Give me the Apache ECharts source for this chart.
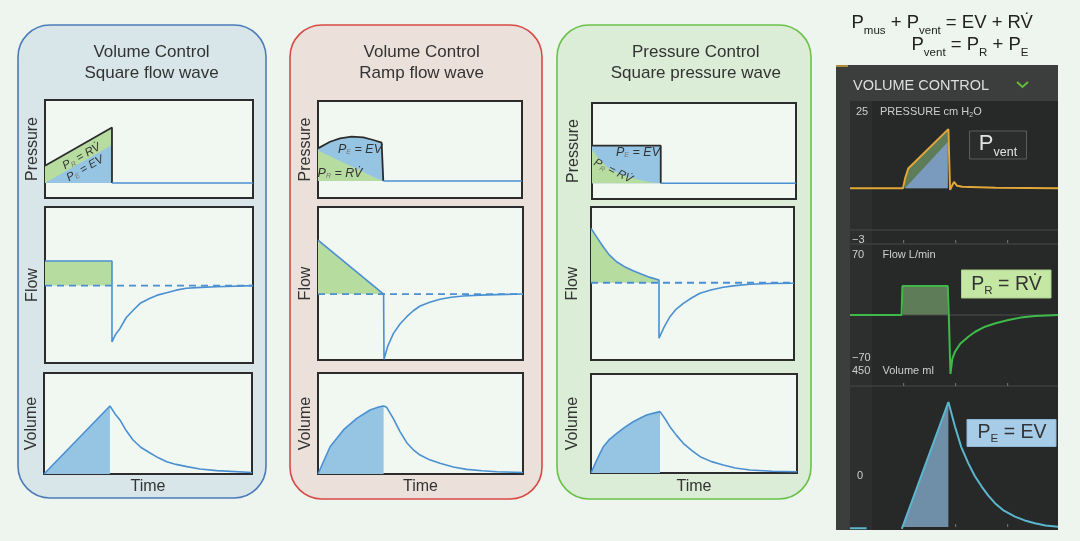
<!DOCTYPE html>
<html><head><meta charset="utf-8">
<script src="https://cdn.jsdelivr.net/npm/echarts@6/dist/echarts.min.js"></script>
<style>html,body{margin:0;padding:0;background:#eef5ee;}#c{width:1080px;height:541px;}</style>
</head><body><div id="c"></div>
<script>
// ---------- DATA (time axis 0..100 per plot) ----------
const panelTitles = [['Volume Control','Square flow wave'],['Volume Control','Ramp flow wave'],['Pressure Control','Square pressure wave']];
const rowNames = ['Pressure','Flow','Volume'];
const timeLabel = 'Time';

// Panel 1 : volume control, square flow
const p1PressureBase = 15.3;
const p1Pressure = [[0,33],[32.2,72],[32.2,15.3]];
const p1PressureE = [[0,15.3],[32.2,54],[32.2,15.3]];
const p1PressureAfter = [[32.2,15.3],[100,15.3]];
const p1FlowZero = 49.6;
const p1Flow = [[0,65.4],[32.2,65.4],[32.2,13.5],[34,18.5],[36,22],[39,29],[42.5,34],[46,38.5],[50.5,41.5],[54,43.5],[58.5,45],[63,46.7],[68,47.9],[75,48.5],[82.5,48.9],[100,49.6]];
const p1FlowFill = [[0,65.4],[32.2,65.4]];
const p1Volume = [[0,0],[31.7,67.3],[34,60],[36.5,53.5],[39.5,43],[42.8,33.7],[46.5,26.5],[51,20.8],[55,16],[59,12.2],[63.5,9.5],[68.7,7.3],[75,5],[83,3.3],[100,1.5]];
const p1VolumeFill = [[0,0],[31.7,67.3]];

// Panel 2 : volume control, ramp flow
const p2PressureBase = 17.5;
const p2Pressure = [[0,51.2],[5.9,58],[10.8,61.5],[16.5,63.2],[22.2,62.6],[27.1,59.8],[31.2,57],[32,56.4],[32,17.5]];
const p2PressureR = [[0,49],[31.5,17.5]];
const p2PressureAfter = [[32,17.5],[100,17.5]];
const p2FlowZero = 43.1;
const p2Flow = [[0,78.4],[32,43.1],[32.2,0.5],[34,9],[36.8,17.4],[40,23.5],[43.3,28.3],[46.5,32.2],[49.8,35.3],[54.5,37.8],[59.5,39.7],[65,41],[70.9,41.8],[79,42.4],[87.2,42.7],[100,43.1]];
const p2FlowFill = [[0,78.4],[32,43.1]];
const p2Volume = [[0,0],[5.9,27],[12.4,43.6],[18.9,55.1],[25.4,63.4],[30,66.6],[32,67.3],[33.5,66],[36.7,55],[40,42],[43.3,31],[46.5,24],[49.8,18.8],[54.5,14],[59.5,10.6],[66,7],[72.5,4.6],[80,3.2],[87.2,2.3],[100,1.5]];
const p2VolumeFill = [[0,0],[5.9,27],[12.4,43.6],[18.9,55.1],[25.4,63.4],[30,66.6],[32,67.3]];

// Panel 3 : pressure control, square pressure
const p3PressureBase = 16.4;
const p3Pressure = [[0,55.5],[33.7,55.5],[33.7,16.4]];
const p3PressureR = [[0,51],[3.5,42],[7.2,33.6],[10.5,29.2],[13.7,26],[17.5,23],[21.9,20.5],[25,19],[28.4,17.4],[33.3,16.4]];
const p3PressureAfter = [[33.7,16.4],[100,16.4]];
const p3FlowZero = 50.5;
const p3Flow = [[0,86],[3,80],[6,74],[9,68.7],[12.6,64.2],[16.5,61],[20.8,58.4],[25,56],[29.1,54],[33.5,52.3],[33.5,14.2],[36,21.5],[38.9,28.3],[42,33.3],[45.5,37],[49.5,40.5],[53.7,43.6],[59,45.8],[65.2,47.5],[71,48.6],[78.3,49.5],[88,50],[100,50.2]];
const p3FlowFill = [[0,86],[3,80],[6,74],[9,68.7],[12.6,64.2],[16.5,61],[20.8,58.4],[25,56],[29.1,54],[33.5,52.3]];
const p3Volume = [[0,0],[3,14],[6,26.6],[9,34],[12.5,40],[16.5,46.3],[20.5,51.8],[24,55.5],[27,58.6],[30.5,60.5],[33.5,62],[36,54.5],[38.3,46.8],[41.5,38],[44.8,30],[49,22.5],[53,16.5],[58.5,11.5],[64.2,8],[70,5],[77.2,3],[88,1.8],[100,1.3]];
const p3VolumeFill = [[0,0],[3,14],[6,26.6],[9,34],[12.5,40],[16.5,46.3],[20.5,51.8],[24,55.5],[27,58.6],[30.5,60.5],[33.5,62]];

// Monitor (volume control)
const monPressRange = [-3,25];
const monFlowRange = [-70,70];
const monVolRange = [0,450];
const monPeep = 7.5;
const monPressure = [[0,7.5],[25.5,7.5],[26.5,9.5],[28,11.5],[47.3,19.5],[48.1,7.2],[49,7.6],[50,8.8],[51.5,8.0],[54,7.8],[70,7.6],[100,7.5]];
const monPressureE = [[26.4,7.5],[47,16.9],[47,7.5]];
const monPressureR = [[26.2,8.5],[28,11.5],[47,19.3],[47,7.5]];
const monFlow = [[0,0],[24.8,0],[25.2,33.3],[26,34.5],[47,33.3],[47.5,0],[48.3,-67.7],[49.2,-50],[50.5,-42],[53,-33],[56.9,-25],[60,-19.5],[64.9,-13.4],[70,-9.5],[76.1,-5.7],[82,-3],[88.9,-1.1],[100,0]];
const monFlowFill = [[25.4,33],[47,33]];
const monFlowZero = [[0,0],[100,0]];
const monVolumeLead = [[0,-4],[8,-4]];
const monVolume = [[24.9,-6],[47.3,399],[50.5,320],[53.5,255],[56.9,203],[60,163],[63.3,129],[66.5,100],[69.7,76],[74,52],[79.3,33],[84,21],[88.9,12],[94,5],[100,1]];
const monVolumeFill = [[24.9,-6],[47.3,399],[47.3,-6]];
const monTicks = {pressure:['25','−3'], flow:['70','−70'], volume:['450','0']};

// ---------- LAYOUT / STYLE ----------
const FONT = 'Liberation Sans, Arial, Helvetica, sans-serif';
const BLUE = '#4a90d2', GREEN_F = '#b6dca0', BLUE_F = '#96c5e3', DARK = '#2c2c2c';
const grids = [
  {left:45, top:100, width:208, height:98},
  {left:45, top:207, width:208, height:156},
  {left:44, top:373, width:208, height:101},
  {left:318, top:101, width:204, height:97},
  {left:318, top:207, width:205, height:153},
  {left:318, top:373, width:205, height:101},
  {left:592, top:103, width:204, height:96},
  {left:591, top:207, width:203, height:153},
  {left:591, top:374, width:206, height:99},
  {left:850, top:102, width:208, height:138},
  {left:850, top:254, width:208, height:122},
  {left:850, top:386, width:208, height:141}
];
const yRanges = [[0,100],[0,100],[0,100],[0,100],[0,100],[0,100],[0,100],[0,100],[0,100],monPressRange,monFlowRange,monVolRange];
const nameGaps = [4,4,10];

const gridOpt = grids.map((g,i)=>Object.assign({containLabel:false, show:i<9, backgroundColor:'#f1f7f1', borderColor:DARK, borderWidth:2}, g));
const xAxes = grids.map((g,i)=>({
  gridIndex:i, type:'value', min:0, max:100,
  axisLine:{show:false}, axisTick:{show:false}, axisLabel:{show:false}, splitLine:{show:false},
  name:(i<9 && i%3===2)?timeLabel:'', nameLocation:'middle', nameGap:(i===8?6:5),
  nameTextStyle:{fontSize:16, color:'#333', fontFamily:FONT}
}));
const yAxes = grids.map((g,i)=>({
  gridIndex:i, type:'value', min:yRanges[i][0], max:yRanges[i][1],
  axisLine:{show:false}, axisTick:{show:false}, axisLabel:{show:false}, splitLine:{show:false},
  name:i<9?rowNames[i%3]:'', nameLocation:'middle', nameRotate:90, nameGap:i<9?nameGaps[Math.floor(i/3)]:5,
  nameTextStyle:{fontSize:16, color:'#333', fontFamily:FONT}
}));

function ln(g, data, color, w, extra){
  return Object.assign({type:'line', xAxisIndex:g, yAxisIndex:g, data, symbol:'none', showSymbol:false, clip:false, silent:true,
    lineStyle:{color, width:w||1.6}, z:3}, extra||{});
}
function area(g, data, fill, origin, z){
  return {type:'line', xAxisIndex:g, yAxisIndex:g, data, symbol:'none', showSymbol:false, silent:true,
    lineStyle:{width:0, opacity:0}, areaStyle:{color:fill, opacity:1, origin}, z:z||2};
}
const dashed = {lineStyle:{color:BLUE, width:1.8, type:[7,5]}};

const series = [
  area(0, p1Pressure, GREEN_F, p1PressureBase),
  area(0, p1PressureE, BLUE_F, p1PressureBase),
  ln(0, p1Pressure, DARK, 1.8), ln(0, p1PressureAfter, BLUE, 1.6),
  area(1, p1FlowFill, GREEN_F, p1FlowZero),
  ln(1, [[0,p1FlowZero],[100,p1FlowZero]], BLUE, 1.8, dashed),
  ln(1, p1Flow, BLUE, 1.6),
  area(2, p1VolumeFill, BLUE_F, 0),
  ln(2, p1Volume, BLUE, 1.6),
  area(3, p2Pressure, BLUE_F, p2PressureBase),
  area(3, p2PressureR, GREEN_F, p2PressureBase),
  ln(3, p2Pressure, DARK, 1.8), ln(3, p2PressureAfter, BLUE, 1.6),
  area(4, p2FlowFill, GREEN_F, p2FlowZero),
  ln(4, [[0,p2FlowZero],[100,p2FlowZero]], BLUE, 1.8, dashed),
  ln(4, p2Flow, BLUE, 1.6),
  area(5, p2VolumeFill, BLUE_F, 0),
  ln(5, p2Volume, BLUE, 1.6),
  area(6, p3Pressure, BLUE_F, p3PressureBase),
  area(6, p3PressureR, GREEN_F, p3PressureBase),
  ln(6, p3Pressure, DARK, 1.8), ln(6, p3PressureAfter, BLUE, 1.6),
  area(7, p3FlowFill, GREEN_F, p3FlowZero),
  ln(7, [[0,p3FlowZero],[100,p3FlowZero]], BLUE, 1.8, dashed),
  ln(7, p3Flow, BLUE, 1.6),
  area(8, p3VolumeFill, BLUE_F, 0),
  ln(8, p3Volume, BLUE, 1.6),
  area(9, monPressureR, '#5e7c58', monPeep),
  area(9, monPressureE, '#7a9bbd', monPeep),
  ln(9, monPressure, '#e2a73a', 2),
  ln(10, monFlowZero, '#4d504e', 1),
  area(10, monFlowFill, '#5e7c58', 0),
  ln(10, monFlow, '#3fba4a', 2),
  area(11, monVolumeFill, '#6f8ea8', -6),
  ln(11, monVolumeLead, '#5cb6cf', 2),
  ln(11, monVolume, '#5cb6cf', 2)
];

// ---------- GRAPHIC (panels, titles, annotations) ----------
const mctx = document.createElement('canvas').getContext('2d');
function fontStr(size, italic){ return (italic?'italic ':'') + size + 'px ' + FONT; }
function measure(s, size, italic){ mctx.font = fontStr(size, italic); return mctx.measureText(s).width; }
// parts: [[text, isSub], ...]; produces a group whose origin is (x,y), text anchored by align
function subText(x, y, parts, o){
  const ms = o.main, ss = o.sub, it = !!o.italic, drop = o.drop;
  const widths = parts.map(p=>measure(p[0], p[1]?ss:ms, it));
  const total = widths.reduce((a,b)=>a+b,0);
  let cx = o.align==='left' ? 0 : -total/2;
  const children = parts.map((p,k)=>{
    const el = {type:'text', x:cx, y:p[1]?drop:0, silent:true, z:100,
      style:{text:p[0], fill:p[1]?(o.subColor||o.color):o.color, fontSize:p[1]?ss:ms, fontFamily:FONT,
        fontStyle:it?'italic':'normal', align:'left', verticalAlign:'middle'}};
    cx += widths[k];
    return el;
  });
  return {type:'group', x, y, rotation:o.rot||0, z:100, silent:true, children};
}
function txt(x,y,text,opt){
  opt = opt||{};
  return {type:'text', x, y, z:100, silent:true,
    style:{text, fill:opt.color||'#333', fontSize:opt.size||12, fontFamily:FONT,
      align:opt.align||'center', verticalAlign:opt.va||'middle'}};
}
const panelRects = [
  {x:18, y:25, w:248, h:473, fill:'#d9e6e9', stroke:'#4c7bb9', cx:151.5},
  {x:290, y:25, w:252, h:474, fill:'#ebe1da', stroke:'#d84a45', cx:421.7},
  {x:557, y:25, w:254, h:474, fill:'#dbedd7', stroke:'#69c148', cx:695.8}
];
const graphic = [];
panelRects.forEach((p,i)=>{
  graphic.push({type:'rect', z:-10, silent:true, shape:{x:p.x, y:p.y, width:p.w, height:p.h, r:32}, style:{fill:p.fill, stroke:p.stroke, lineWidth:1.6}});
  graphic.push(txt(p.cx, 52, panelTitles[i][0], {size:17}));
  graphic.push(txt(p.cx, 73, panelTitles[i][1], {size:17}));
});
const PR = [['P',0],['R',1],[' = RV̇',0]];
const PE = [['P',0],['E',1],[' = EV',0]];
const lab = {main:11.5, sub:7, drop:3, italic:true, color:'#333', subColor:'#777'};
graphic.push(subText(81.5, 156.5, PR, Object.assign({rot:0.52}, lab)));
graphic.push(subText(85, 168.5, PE, Object.assign({rot:0.52}, lab)));
graphic.push(subText(360, 149.5, PE, Object.assign({}, lab, {main:12.5})));
graphic.push(subText(340, 173.5, PR, Object.assign({}, lab, {main:12.5})));
graphic.push(subText(638, 152.5, PE, Object.assign({}, lab, {main:12.5})));
graphic.push(subText(613, 171, PR, Object.assign({rot:-0.45}, lab, {main:11.5})));

// equations
const eq = {main:18.5, sub:11.5, drop:8, align:'left', color:'#222'};
graphic.push(subText(851.5, 23, [['P',0],['mus',1],[' + P',0],['vent',1],[' = EV + RV̇',0]], eq));
graphic.push(subText(911.5, 45, [['P',0],['vent',1],[' = P',0],['R',1],[' + P',0],['E',1]], eq));

// monitor frame
graphic.push({type:'rect', z:-10, silent:true, shape:{x:836, y:65, width:222, height:465}, style:{fill:'#3b3e3c'}});
graphic.push({type:'rect', z:-9, silent:true, shape:{x:850, y:101, width:208, height:429}, style:{fill:'#262927'}});
graphic.push({type:'rect', z:-9, silent:true, shape:{x:850, y:101, width:22, height:429}, style:{fill:'#2c2f2d'}});
graphic.push({type:'polyline', z:-8, silent:true, shape:{points:[[836,66],[848,66]]}, style:{stroke:'#d9a534', lineWidth:1.5}});
[230,244,386].forEach(y=>graphic.push({type:'line', z:-8, silent:true, shape:{x1:850,y1:y,x2:1058,y2:y}, style:{stroke:'#484b49', lineWidth:1.2}}));
[[903,240],[955,240],[1007,240],[903,383],[955,383],[1007,383],[955,524],[1007,524]].forEach(p=>
  graphic.push({type:'rect', z:-8, silent:true, shape:{x:p[0],y:p[1],width:1.2,height:3}, style:{fill:'#6a6d6b'}}));
graphic.push(txt(853, 85.5, 'VOLUME CONTROL', {align:'left', size:14.5, color:'#dedede'}));
graphic.push({type:'polyline', z:100, silent:true, shape:{points:[[1017,82],[1022.5,87],[1028,82]]}, style:{stroke:'#64bb3c', lineWidth:2, fill:null}});
const monLbl = {align:'left', size:11, color:'#cfcfcf'};
graphic.push(txt(856, 112, monTicks.pressure[0], monLbl));
graphic.push(subText(880, 112, [['PRESSURE cm H',0],['2',1],['O',0]], {main:11, sub:7, drop:3, align:'left', color:'#cfcfcf'}));
graphic.push(txt(852, 240, monTicks.pressure[1], monLbl));
graphic.push(txt(852, 254.5, monTicks.flow[0], monLbl));
graphic.push(txt(882.5, 254.5, 'Flow L/min', monLbl));
graphic.push(txt(852, 358, monTicks.flow[1], monLbl));
graphic.push(txt(852, 371, monTicks.volume[0], monLbl));
graphic.push(txt(882.5, 371, 'Volume ml', monLbl));
graphic.push(txt(857, 476, monTicks.volume[1], monLbl));
// monitor boxes
graphic.push({type:'rect', z:90, silent:true, shape:{x:969.5, y:131, width:57, height:28}, style:{fill:'#2b2d2c', stroke:'#5a5c5b', lineWidth:1}});
graphic.push(subText(998, 143.5, [['P',0],['vent',1]], {main:22, sub:12.5, drop:9, color:'#e2e2e2'}));
graphic.push({type:'rect', z:90, silent:true, shape:{x:961.5, y:270, width:89.5, height:28}, style:{fill:'#c4e7a4', stroke:'#a9cf8a', lineWidth:1}});
graphic.push(subText(1006.5, 284.5, PR, {main:19.5, sub:11.5, drop:6, color:'#333'}));
graphic.push({type:'rect', z:90, silent:true, shape:{x:967, y:419.5, width:89, height:27}, style:{fill:'#a7cce7', stroke:'#8fb8d8', lineWidth:1}});
graphic.push(subText(1012, 433, PE, {main:19.5, sub:11.5, drop:6, color:'#333'}));

const chart = echarts.init(document.getElementById('c'), null, {renderer:'canvas'});
chart.setOption({
  backgroundColor:'#eef5ee', animation:false,
  grid:gridOpt, xAxis:xAxes, yAxis:yAxes, series, graphic
});
</script></body></html>
